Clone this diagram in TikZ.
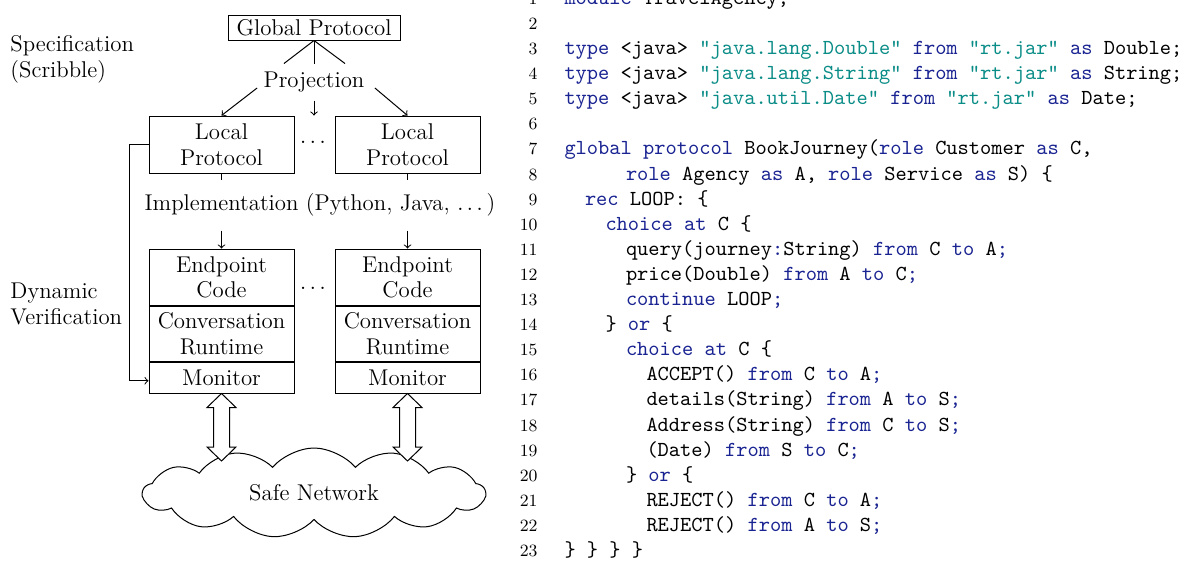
\documentclass[tikz,border=0pt]{standalone}
\usetikzlibrary{shapes.symbols,calc}
\definecolor{kwblue}{RGB}{25,35,145}
\definecolor{strteal}{RGB}{10,140,135}
\newcommand\kwd[1]{\textcolor{kwblue}{#1}}
\newcommand\strg[1]{\textcolor{strteal}{#1}}
\newcommand\dq{\char34\relax}
% one line of the listing: number, indent level, text
\newcommand\codeline[3]{\node[codetxt] (c#1) at ({564+20.5*#2},{54.5+(#1-3)*25.1}) {#3};}
\begin{document}
\begin{tikzpicture}[x=0.5pt,y=-0.5pt,line width=0.5pt,
  font=\fontsize{11.4}{12.8}\selectfont,
  box/.style={draw, inner sep=0pt, align=center, minimum width=72.5pt},
  lbl/.style={inner sep=0pt, align=left, anchor=base west},
  codetxt/.style={inner sep=0pt, anchor=base west, font=\fontsize{10.7}{12.55}\selectfont\ttfamily},
  lnum/.style={inner sep=0pt, anchor=base east, font=\fontsize{8.6}{10}\selectfont},
  bigdarrow/.style={to path={-- ++(14.5,14) -- ++(-6.5,0) -- ($(\tikztotarget)+(8,-14)$) -- ++(6.5,0)
      -- (\tikztotarget) -- ++(-14.5,-14) -- ++(6.5,0) -- ($(\tikztostart)+(-8,14)$) -- ++(-6.5,0) -- cycle}}]
\useasboundingbox (0,0) rectangle (1194,563);
\clip (0,0) rectangle (1194,563);

% ---- architecture ----
\node[lbl] (spec) at (10,77) {Specification\\(Scribble)};
\node[lbl] (dyn) at (10,324) {Dynamic\\Verification};

\node[box, minimum width=86pt, minimum height=12.5pt] (glob) at (314,27.5) {Global Protocol};
\node[inner sep=0pt, minimum height=18pt] (proj) at (314,82) {Projection};

\node[box, minimum height=28.5pt] (locL) at (221.5,144.5) {Local\\Protocol};
\node[box, minimum height=28.5pt] (locR) at (407.5,144.5) {Local\\Protocol};
\node[anchor=base, inner sep=0pt] (dots1) at (313,143) {$\ldots$};

\node[inner sep=0pt, minimum height=25pt] (impl) at (320,205) {Implementation (Python, Java, $\ldots$\,)};

\node[box, minimum height=28.25pt] (epL) at (221.5,277.25) {Endpoint\\Code};
\node[box, minimum height=27.5pt] (rtL) at (221.5,334) {Conversation\\Runtime};
\node[box, minimum height=15.25pt] (monL) at (221.5,377.75) {Monitor};
\node[box, minimum height=28.25pt] (epR) at (407.5,277.25) {Endpoint\\Code};
\node[box, minimum height=27.5pt] (rtR) at (407.5,334) {Conversation\\Runtime};
\node[box, minimum height=15.25pt] (monR) at (407.5,377.75) {Monitor};
\node[anchor=base, inner sep=0pt] (dots2) at (313,289) {$\ldots$};

\node[cloud, draw, cloud puffs=13, cloud puff arc=100, aspect=4.2, minimum width=171pt, minimum height=45pt, inner sep=0pt] (net) at (314,493) {Safe Network};
\coordinate (cL) at (221.5,461);
\coordinate (cR) at (407.5,461);

% projection
\draw (glob.south) -- ($(proj.north)+(-30,0)$);
\draw (glob.south) -- (proj.north);
\draw (glob.south) -- ($(proj.north)+(31,0)$);
\draw[->] ($(proj.west)+(-6,6)$) -- (locL.north);
\draw[->] ($(proj.east)+(10,6)$) -- (locR.north);
\draw[->] (proj.south) -- (proj.south |- locL.north);

% implementation
\draw (locL.south) -- (locL.south |- impl.north);
\draw (locR.south) -- (locR.south |- impl.north);
\draw[->] (locL.south |- impl.south) -- (epL.north);
\draw[->] (locR.south |- impl.south) -- (epR.north);

% monitoring feedback
\draw[->] (locL.west) -- ++(-19,0) |- ([yshift=-1.5pt]monL.west);

% network links
\draw[fill=white] (monL.south) to[bigdarrow] (cL);
\draw[fill=white] (monR.south) to[bigdarrow] (cR);

% ---- Scribble listing ----
\foreach \n in {1,...,23} \node[lnum] (ln\n) at (538,{54.5+(\n-3)*25.1}) {\n};
\codeline{1}{0}{\kwd{module} TravelAgency;}
\codeline{3}{0}{\kwd{type} <java> \strg{\dq java.lang.Double\dq} \kwd{from} \strg{\dq rt.jar\dq} \kwd{as} Double;}
\codeline{4}{0}{\kwd{type} <java> \strg{\dq java.lang.String\dq} \kwd{from} \strg{\dq rt.jar\dq} \kwd{as} String;}
\codeline{5}{0}{\kwd{type} <java> \strg{\dq java.util.Date\dq} \kwd{from} \strg{\dq rt.jar\dq} \kwd{as} Date;}
\codeline{7}{0}{\kwd{global} \kwd{protocol} BookJourney(\kwd{role} Customer \kwd{as} C,}
\codeline{8}{3}{\kwd{role} Agency \kwd{as} A, \kwd{role} Service \kwd{as} S) \{}
\codeline{9}{1}{\kwd{rec} LOOP: \{}
\codeline{10}{2}{\kwd{choice} \kwd{at} C \{}
\codeline{11}{3}{query(journey\kwd{:}String) \kwd{from} C \kwd{to} A\kwd{;}}
\codeline{12}{3}{price(Double) \kwd{from} A \kwd{to} C\kwd{;}}
\codeline{13}{3}{\kwd{continue} LOOP\kwd{;}}
\codeline{14}{2}{\} \kwd{or} \{}
\codeline{15}{3}{\kwd{choice} \kwd{at} C \{}
\codeline{16}{4}{ACCEPT() \kwd{from} C \kwd{to} A\kwd{;}}
\codeline{17}{4}{details(String) \kwd{from} A \kwd{to} S\kwd{;}}
\codeline{18}{4}{Address(String) \kwd{from} C \kwd{to} S\kwd{;}}
\codeline{19}{4}{(Date) \kwd{from} S \kwd{to} C\kwd{;}}
\codeline{20}{3}{\} \kwd{or} \{}
\codeline{21}{4}{REJECT() \kwd{from} C \kwd{to} A\kwd{;}}
\codeline{22}{4}{REJECT() \kwd{from} A \kwd{to} S\kwd{;}}
\codeline{23}{0}{\} \} \} \}}
\end{tikzpicture}
\end{document}
